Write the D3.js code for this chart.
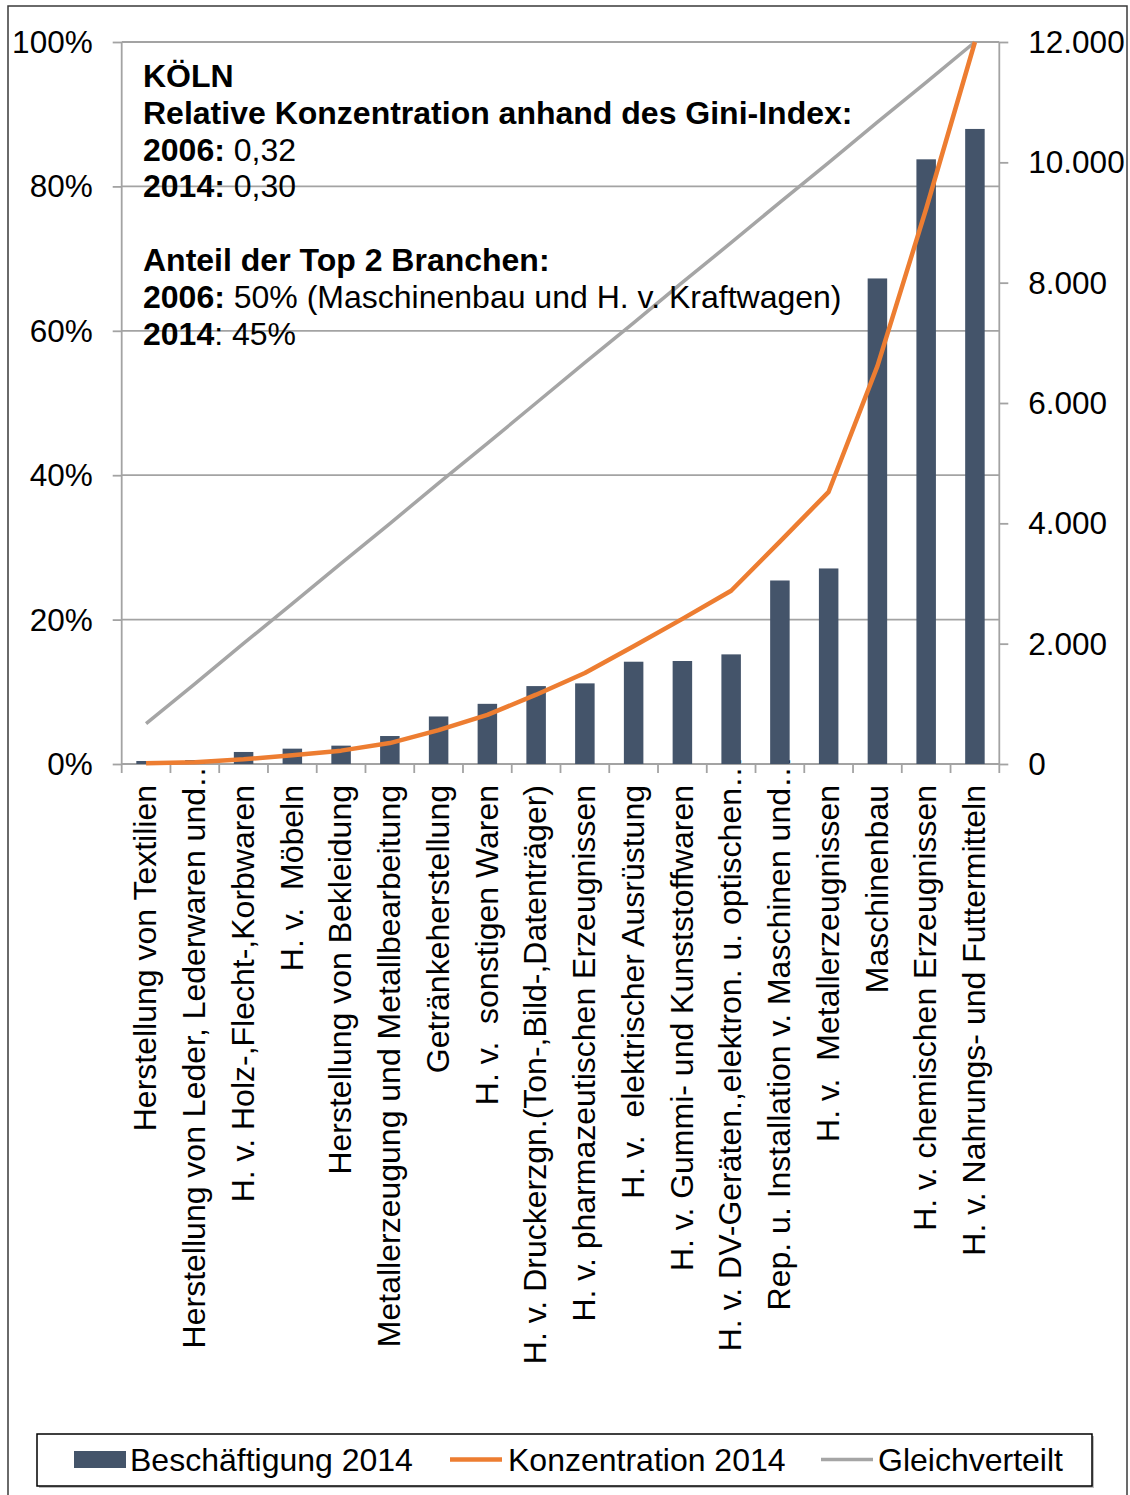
<!DOCTYPE html>
<html>
<head>
<meta charset="utf-8">
<script src="https://cdn.jsdelivr.net/npm/d3@7"></script>
<style>
  html, body { margin: 0; padding: 0; background: #fff; }
  svg text { font-family: "Liberation Sans", Arial, sans-serif; fill: #000; white-space: pre; }
</style>
</head>
<body>
<div id="chart"></div>
<script>
// ---- DATA ----
const categories = [
  "Herstellung von Textilien",
  "Herstellung von Leder, Lederwaren und…",
  "H. v. Holz-,Flecht-,Korbwaren",
  "H. v.  Möbeln",
  "Herstellung von Bekleidung",
  "Metallerzeugung und Metallbearbeitung",
  "Getränkeherstellung",
  "H. v.  sonstigen Waren",
  "H. v. Druckerzgn.(Ton-,Bild-,Datenträger)",
  "H. v. pharmazeutischen Erzeugnissen",
  "H. v.  elektrischer Ausrüstung",
  "H. v. Gummi- und Kunststoffwaren",
  "H. v. DV-Geräten.,elektron. u. optischen…",
  "Rep. u. Installation v. Maschinen und…",
  "H. v.  Metallerzeugnissen",
  "Maschinenbau",
  "H. v. chemischen Erzeugnissen",
  "H. v. Nahrungs- und Futtermitteln"
];
// Beschäftigung 2014 (right axis)
const beschaeftigung = [50, 65, 200, 255, 305, 465, 790, 1000, 1295, 1340, 1700, 1712, 1822, 3050, 3250, 8070, 10050, 10555];
// Konzentration 2014 (cumulative share, %, left axis)
const konzentration = [0.1, 0.25, 0.65, 1.2, 1.85, 2.9, 4.7, 6.8, 9.6, 12.6, 16.3, 20.1, 24.0, 30.8, 37.7, 55.1, 76.9, 100];
// Gleichverteilt (%, left axis)
const gleichverteilt = [5.6, 11.1, 16.7, 22.2, 27.8, 33.3, 38.9, 44.4, 50.0, 55.6, 61.1, 66.7, 72.2, 77.8, 83.3, 88.9, 94.4, 100];
const leftTicks = [0, 20, 40, 60, 80, 100];
const rightTicks = [0, 2000, 4000, 6000, 8000, 10000, 12000];
const legendLabels = ["Beschäftigung 2014", "Konzentration 2014", "Gleichverteilt"];
const infoLines = [
  [["KÖLN", true]],
  [["Relative Konzentration anhand des Gini-Index:", true]],
  [["2006:", true], [" 0,32", false]],
  [["2014:", true], [" 0,30", false]],
  [],
  [["Anteil der Top 2 Branchen:", true]],
  [["2006:", true], [" 50% (Maschinenbau und H. v. Kraftwagen)", false]],
  [["2014", true], [": 45%", false]]
];

// ---- LAYOUT ----
const W = 1130, H = 1495;
const plot = { left: 121.7, right: 999.3, top: 42, bottom: 764 };
const colBar = "#44546A", colOrange = "#ED7D31", colGray = "#A5A5A5", colGrid = "#A3A3A3";

const de = d3.formatLocale({ decimal: ",", thousands: ".", grouping: [3], currency: ["", "€"] });
const fmtR = de.format(",d");

const svg = d3.select("#chart").append("svg")
  .attr("width", W).attr("height", H);

// outer frame
svg.append("rect").attr("x", 8).attr("y", 6).attr("width", 1119).attr("height", 1500)
  .attr("fill", "none").attr("stroke", "#3a3a3a").attr("stroke-width", 1.5);

const x = d3.scaleBand().domain(categories).range([plot.left, plot.right])
  .paddingInner(0.6).paddingOuter(0.3);
const yL = d3.scaleLinear().domain([0, 100]).range([plot.bottom, plot.top]);
const yR = d3.scaleLinear().domain([0, 12000]).range([plot.bottom, plot.top]);
const cx = c => x(c) + x.bandwidth() / 2;

// gridlines
svg.append("g").selectAll("line").data(leftTicks.filter(d => d > 0)).join("line")
  .attr("x1", plot.left).attr("x2", plot.right)
  .attr("y1", d => yL(d)).attr("y2", d => yL(d))
  .attr("stroke", colGrid).attr("stroke-width", 1.8);

// left axis
const gL = svg.append("g").attr("transform", `translate(${plot.left},0)`)
  .call(d3.axisLeft(yL).tickValues(leftTicks).tickSize(9).tickPadding(20).tickFormat(d => d + "%"));
gL.select(".domain").remove();
gL.append("line").attr("y1", plot.top).attr("y2", plot.bottom).attr("stroke", colGrid).attr("stroke-width", 1.8);
gL.selectAll(".tick line").attr("stroke", colGrid).attr("stroke-width", 1.8);
gL.selectAll(".tick text").style("font-size", "31.5px").attr("fill", "#000").attr("dy", "0.33em");

// right axis
const gR = svg.append("g").attr("transform", `translate(${plot.right},0)`)
  .call(d3.axisRight(yR).tickValues(rightTicks).tickSize(9).tickPadding(20).tickFormat(fmtR));
gR.select(".domain").remove();
gR.append("line").attr("y1", plot.top).attr("y2", plot.bottom).attr("stroke", colGrid).attr("stroke-width", 1.8);
gR.selectAll(".tick line").attr("stroke", colGrid).attr("stroke-width", 1.8);
gR.selectAll(".tick text").style("font-size", "31.5px").attr("fill", "#000").attr("dy", "0.33em");

// bottom axis
const gB = svg.append("g").attr("transform", `translate(0,${plot.bottom})`)
  .call(d3.axisBottom(x).tickSize(0).tickPadding(21));
gB.select(".domain").remove();
gB.append("line").attr("x1", plot.left).attr("x2", plot.right).attr("stroke", colGrid).attr("stroke-width", 1.8);
gB.selectAll(".tickmark").data(d3.range(categories.length + 1)).join("line")
  .attr("x1", i => plot.left + i * x.step()).attr("x2", i => plot.left + i * x.step())
  .attr("y1", 0).attr("y2", 9).attr("stroke", colGrid).attr("stroke-width", 1.8);
gB.selectAll(".tick text")
  .style("font-size", "32px").attr("fill", "#000")
  .attr("text-anchor", "end")
  .attr("transform", "rotate(-90)")
  .attr("x", d => d.endsWith("…") ? 8 : -21).attr("y", 0).attr("dy", "0.32em");

// bars
svg.append("g").selectAll("rect").data(categories).join("rect")
  .attr("x", c => x(c)).attr("width", x.bandwidth())
  .attr("y", (c, i) => yR(beschaeftigung[i]))
  .attr("height", (c, i) => plot.bottom - yR(beschaeftigung[i]))
  .attr("fill", colBar);

// lines
const lineL = d3.line().x((d, i) => cx(categories[i])).y(d => yL(d));
svg.append("path").datum(gleichverteilt).attr("d", lineL)
  .attr("fill", "none").attr("stroke", colGray).attr("stroke-width", 3.5);
svg.append("path").datum(konzentration).attr("d", lineL)
  .attr("fill", "none").attr("stroke", colOrange).attr("stroke-width", 4.5).attr("stroke-linejoin", "round");

// info text
const info = svg.append("text").attr("x", 143).attr("y", 87).style("font-size", "32px");
infoLines.forEach((ln, i) => {
  const base = 87 + i * 36.8;
  if (ln.length === 0) return;
  ln.forEach((seg, j) => {
    const t = info.append("tspan").text(seg[0]).attr("font-weight", seg[1] ? "bold" : "normal");
    if (j === 0) t.attr("x", 143).attr("y", base);
  });
});

// legend
const lg = svg.append("g");
lg.append("rect").attr("x", 39).attr("y", 1436).attr("width", 1055).attr("height", 52).attr("fill", "#bdbdbd");
lg.append("rect").attr("x", 37).attr("y", 1434).attr("width", 1055).attr("height", 52)
  .attr("fill", "#fff").attr("stroke", "#000").attr("stroke-width", 1.5);
const ly = 1459.5;
lg.append("rect").attr("x", 74).attr("y", ly - 8.5).attr("width", 52).attr("height", 17).attr("fill", colBar);
lg.append("line").attr("x1", 450).attr("x2", 502).attr("y1", ly).attr("y2", ly).attr("stroke", colOrange).attr("stroke-width", 4.5);
lg.append("line").attr("x1", 821).attr("x2", 873).attr("y1", ly).attr("y2", ly).attr("stroke", colGray).attr("stroke-width", 3.5);
const lx = [130, 508, 878];
lg.selectAll("text.leg").data(legendLabels).join("text").attr("class", "leg")
  .attr("x", (d, i) => lx[i]).attr("y", ly).attr("dy", "0.35em")
  .style("font-size", "32px").text(d => d);
</script>
</body>
</html>
